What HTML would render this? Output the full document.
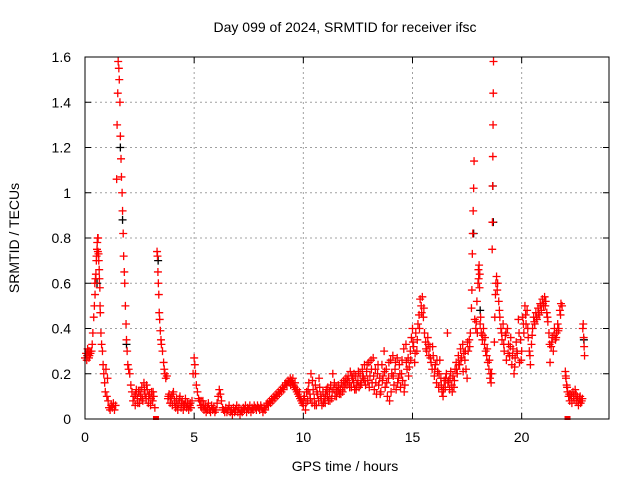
<!DOCTYPE html>
<html><head><meta charset="utf-8"><style>
body{margin:0;background:#fff}
svg{display:block;font-family:"Liberation Sans",sans-serif}
</style></head><body>
<svg id="c" width="640" height="480"></svg>
<script>
const xTicks=[0,5,10,15,20];
const yTicks=[0,0.2,0.4,0.6,0.8,1,1.2,1.4,1.6];
const yTickLabels=["0","0.2","0.4","0.6","0.8","1","1.2","1.4","1.6"];
const redTimes=[0,.05,.1,.15,.2,.25,.3,.33,.36,.4,.43,.46,.5,.52,.55,.58,.6,.62,.65,.68,.7,.73,.76,.8,.83,.86,.9,.93,.96,1,1.03,1.06,1.1,1.15,1.2,1.25,1.3,1.35,1.4,
1.45,1.47,1.5,1.52,1.55,1.57,1.6,1.62,1.65,1.67,1.7,1.72,1.75,1.77,1.8,1.82,1.85,1.88,1.9,1.93,1.96,2,2.05,2.1,2.15,2.2,2.25,2.3,2.35,2.4,2.45,2.5,2.55,2.6,2.65,2.7,2.75,2.8,2.85,2.9,2.95,3,3.05,3.1,3.15,3.2,
3.3,3.32,3.34,3.36,3.38,3.4,3.42,3.45,3.48,3.5,3.55,3.6,3.63,3.66,3.7,3.75,3.8,3.85,3.9,3.95,4,4.05,4.1,4.15,4.2,4.25,4.3,4.35,4.4,4.45,4.5,4.55,4.6,4.65,4.7,4.75,4.8,4.85,4.9,4.95,5,5.03,5.06,5.1,5.15,5.2,5.25,5.3,5.35,5.4,5.45,5.5,5.55,5.6,5.65,5.7,5.75,5.8,5.85,5.9,5.95,6,6.05,6.1,6.15,6.2,6.25,6.3,6.35,6.4,6.45,6.5,6.55,6.6,6.65,6.7,6.75,6.8,6.85,6.9,6.95,7,7.05,7.1,7.15,7.2,7.25,7.3,7.35,7.4,7.45,7.5,7.55,7.6,7.65,7.7,7.75,7.8,7.85,7.9,7.95,8,8.05,8.1,8.15,8.2,8.25,8.3,8.35,8.4,8.45,8.5,8.55,8.6,8.65,8.7,8.75,8.8,8.85,8.9,8.95,9,9.05,9.1,9.15,9.2,9.25,9.3,9.35,9.4,9.45,9.5,9.55,9.6,9.65,9.7,9.75,9.8,9.85,9.9,9.95,
10,10.05,10.1,10.15,10.2,10.25,10.3,10.35,10.4,10.45,10.5,10.55,10.6,10.65,10.7,10.75,10.8,10.85,10.9,10.95,11,11.05,11.1,11.15,11.2,11.25,11.3,11.35,11.4,11.45,11.5,11.55,11.6,11.65,11.7,11.75,11.8,11.85,11.9,11.95,12,12.05,12.1,12.15,12.2,12.25,12.3,12.35,12.4,12.45,12.5,12.55,12.6,12.65,12.7,12.75,12.8,12.85,12.9,12.95,13,13.05,13.1,13.15,13.2,13.25,13.3,13.35,13.4,13.45,13.5,13.55,13.6,13.65,13.7,13.75,13.8,13.85,13.9,13.95,14,14.05,14.1,14.15,14.2,14.25,14.3,14.35,14.4,14.45,14.5,14.55,14.6,14.65,14.7,14.75,14.8,14.85,14.9,14.95,
15,15.05,15.1,15.15,15.2,15.25,15.3,15.35,15.4,15.45,15.5,15.55,15.6,15.65,15.7,15.75,15.8,15.85,15.9,15.95,16,16.05,16.1,16.15,16.2,16.25,16.3,16.35,16.4,16.45,16.5,16.55,16.6,16.65,16.7,16.75,16.8,16.85,16.9,16.95,17,17.05,17.1,17.15,17.2,17.25,17.3,17.35,17.4,17.45,17.5,17.55,17.6,17.65,17.7,17.72,17.74,17.76,17.78,17.8,17.82,17.85,17.9,17.95,18,18.02,18.05,18.08,18.1,18.15,18.2,18.25,18.3,18.35,18.4,18.45,18.5,18.55,18.6,18.62,18.65,18.66,18.67,18.68,18.69,18.7,18.71,18.75,18.8,18.85,18.9,18.95,
19,19.05,19.1,19.15,19.2,19.25,19.3,19.35,19.4,19.45,19.5,19.55,19.6,19.65,19.7,19.75,19.8,19.85,19.9,19.95,20,20.05,20.1,20.15,20.2,20.25,20.3,20.35,20.4,20.45,20.5,20.55,20.6,20.65,20.7,20.75,20.8,20.85,20.9,20.95,21,21.05,21.1,21.15,21.2,21.25,21.3,21.35,21.4,21.45,21.5,21.55,21.6,21.65,21.7,21.75,21.8,21.85,22,22.03,22.06,22.1,22.15,22.2,22.25,22.3,22.35,22.4,22.45,22.5,22.55,22.6,22.65,22.7,22.75,22.8,22.82,22.84,22.86,22.88];
const redValues=[.27,.29,.28,.30,.28,.29,.30,.33,.38,.45,.50,.55,.64,.70,.75,.80,.80,.73,.66,.58,.47,.38,.33,.30,.24,.20,.16,.12,.22,.10,.18,.08,.05,.04,.06,.05,.07,.04,.06,
1.06,1.30,1.44,1.58,1.55,1.50,1.40,1.25,1.15,1.07,1.0,.92,.82,.72,.65,.60,.50,.42,.35,.30,.24,.22,.20,.15,.12,.08,.10,.06,.13,.09,.12,.07,.10,.14,.08,.16,.11,.09,.13,.07,.11,.06,.12,.08,.10,.05,
.74,.72,.65,.60,.55,.47,.44,.39,.35,.33,.30,.25,.22,.20,.18,.19,.09,.11,.07,.10,.06,.12,.08,.05,.09,.04,.07,.10,.05,.08,.04,.06,.09,.05,.07,.04,.06,.05,.08,.20,.27,.24,.20,.15,.12,.09,.08,.06,.05,.08,.04,.06,.03,.05,.07,.04,.03,.06,.04,.05,.03,.04,.07,.10,.13,.11,.08,.05,.04,.03,.05,.03,.04,.06,.03,.04,.02,.05,.03,.04,.06,.03,.05,.02,.04,.03,.05,.04,.06,.03,.05,.04,.06,.03,.05,.04,.06,.05,.04,.06,.05,.04,.06,.05,.03,.05,.04,.06,.07,.06,.08,.07,.09,.08,.10,.09,.11,.10,.12,.11,.13,.12,.14,.13,.15,.16,.15,.17,.16,.18,.17,.16,.15,.14,.13,.12,.11,.10,.09,.08,.07,
.06,.10,.04,.12,.08,.16,.11,.20,.07,.13,.09,.15,.06,.11,.08,.14,.10,.06,.12,.09,.07,.13,.10,.08,.12,.15,.09,.20,.13,.10,.14,.12,.15,.11,.13,.16,.12,.17,.14,.18,.15,.19,.16,.21,.14,.18,.16,.13,.19,.15,.17,.14,.20,.16,.22,.18,.24,.15,.21,.17,.25,.19,.26,.16,.27,.13,.22,.11,.20,.15,.18,.12,.24,.19,.30,.14,.22,.10,.18,.08,.26,.20,.28,.15,.22,.13,.27,.18,.24,.14,.20,.17,.31,.15,.33,.22,.27,.23,.30,.36,
.40,.32,.25,.38,.30,.42,.46,.53,.50,.54,.45,.38,.34,.30,.36,.28,.32,.25,.22,.28,.19,.24,.16,.21,.14,.26,.18,.12,.10,.17,.14,.20,.38,.17,.13,.21,.15,.19,.14,.22,.25,.20,.28,.24,.31,.27,.33,.29,.26,.22,.18,.30,.35,.38,.49,.57,.73,.82,.92,1.02,1.14,.44,.40,.52,.60,.66,.68,.64,.42,.38,.35,.40,.33,.30,.28,.25,.22,.18,.16,.20,.75,.87,1.03,1.16,1.30,1.44,1.58,.34,.55,.63,.60,.52,
.45,.40,.35,.42,.30,.37,.26,.40,.33,.28,.36,.24,.31,.20,.27,.34,.29,.44,.25,.35,.30,.45,.38,.50,.42,.48,.36,.30,.24,.33,.40,.45,.42,.47,.44,.49,.46,.51,.48,.53,.50,.54,.52,.47,.43,.38,.25,.32,.36,.30,.40,.35,.38,.42,.40,.48,.51,.50,.21,.18,.15,.12,.10,.08,.11,.07,.12,.09,.13,.08,.10,.06,.09,.07,.08,.40,.42,.36,.32,.28];
const extraTimes=[.08,.12,.18,.22,.45,.48,.53,.56,.59,.63,.66,.69,2.32,2.42,2.52,2.62,2.72,2.82,2.92,3.02,3.12,3.82,3.92,4.02,4.12,4.22,4.32,4.42,4.52,4.62,4.72,4.82,5.32,5.42,5.52,5.62,9.42,9.52,9.62,9.72,9.82,
10.02,10.12,10.22,10.32,10.42,10.52,10.62,10.72,10.82,10.92,11.02,11.12,11.22,11.32,11.42,11.52,11.62,11.72,11.82,11.92,12.02,12.12,12.22,12.32,12.42,12.52,12.62,12.72,12.82,12.92,13.02,13.12,13.22,13.32,13.42,13.52,13.62,13.72,13.82,13.92,14.02,14.12,14.22,14.32,14.42,14.52,14.62,14.72,14.82,14.92,
15.02,15.12,15.22,15.32,15.42,15.52,15.62,15.72,15.82,15.92,16.02,16.12,16.22,16.32,16.42,16.52,16.62,16.72,16.82,16.92,17.02,17.12,17.22,17.32,17.42,17.52,17.62,17.92,17.97,18.03,18.07,18.12,18.22,18.32,18.42,18.52,18.58,18.77,18.82,18.88,18.98,
19.08,19.18,19.28,19.38,19.48,19.58,19.68,19.78,19.88,19.98,20.08,20.18,20.28,20.38,20.48,20.58,20.68,20.78,20.88,20.98,21.08,21.18,21.28,21.38,21.48,21.58,21.68,21.78,22.02,22.08,22.18,22.28,22.38,22.48,22.58,22.68,22.78];
const extraValues=[.26,.31,.27,.30,.60,.62,.72,.78,.74,.70,.62,.50,.11,.07,.12,.09,.13,.15,.10,.09,.12,.10,.09,.11,.07,.06,.09,.07,.06,.07,.06,.07,.08,.06,.05,.04,.15,.18,.16,.13,.12,
.09,.07,.13,.09,.17,.06,.12,.18,.09,.07,.11,.14,.08,.12,.16,.10,.13,.11,.14,.16,.17,.14,.19,.20,.13,.21,.15,.19,.17,.24,.14,.22,.19,.16,.24,.11,.17,.21,.16,.25,.12,.19,.25,.16,.20,.26,.12,.25,.19,.26,
.34,.29,.35,.40,.47,.49,.31,.33,.27,.32,.22,.26,.20,.15,.13,.18,.16,.18,.12,.17,.22,.24,.26,.21,.30,.34,.32,.43,.38,.62,.58,.45,.37,.36,.31,.26,.20,.45,.60,.57,.48,
.38,.33,.38,.29,.32,.28,.23,.30,.38,.26,.42,.46,.40,.28,.37,.43,.45,.47,.50,.51,.50,.45,.33,.34,.37,.36,.39,.46,.19,.14,.11,.10,.10,.11,.08,.10,.09];
const blackTimes=[0.55,1.62,1.72,1.9,3.35,17.8,18.1,18.68,18.7,22.85];
const blackValues=[0.6,1.2,0.88,0.33,0.7,0.82,0.48,1.03,0.87,0.35];
const zeroTimes=[3.25,22.1];

const NS="http://www.w3.org/2000/svg";
const svg=document.getElementById('c');
const L=85,R=609,T=57,B=419,XMAX=24,YMAX=1.6;
const xs=t=>L+(t/XMAX)*(R-L);
const ys=v=>B-(v/YMAX)*(B-T);
function mk(tag,attrs,parent){const e=document.createElementNS(NS,tag);for(const k in attrs)e.setAttribute(k,attrs[k]);(parent||svg).appendChild(e);return e;}

const grid=mk('g',{stroke:'#a0a0a0','stroke-width':1,'stroke-dasharray':'2,3'});


xTicks.forEach(t=>{if(t>0)mk('line',{x1:xs(t),x2:xs(t),y1:T,y2:B},grid);});
yTicks.forEach(v=>{if(v>0&&v<YMAX)mk('line',{x1:L,x2:R,y1:ys(v),y2:ys(v)},grid);});

const ticks=mk('g',{stroke:'#000','stroke-width':1});


xTicks.forEach(t=>{mk('line',{x1:xs(t),x2:xs(t),y1:B,y2:B-6},ticks);mk('line',{x1:xs(t),x2:xs(t),y1:T,y2:T+6},ticks);});
yTicks.forEach(v=>{mk('line',{x1:L,x2:L+6,y1:ys(v),y2:ys(v)},ticks);mk('line',{x1:R,x2:R-6,y1:ys(v),y2:ys(v)},ticks);});

const xl=mk('g',{'font-size':14,fill:'#000','text-anchor':'middle'});


xTicks.forEach(t=>{const e=mk('text',{x:xs(t),y:442},xl);e.textContent=String(t);});
const yl=mk('g',{'font-size':14,fill:'#000','text-anchor':'end'});


yTicks.forEach((v,i)=>{const e=mk('text',{x:71,y:ys(v)+5},yl);e.textContent=yTickLabels[i];});

function plus(g,t,v,col){const x=xs(t),y=ys(v);mk('path',{d:`M${x-4},${y}H${x+4}M${x},${y-4}V${y+4}`,stroke:col,'stroke-width':1.3},g);}
const blk=mk('g',{});


blackTimes.forEach((t,i)=>plus(blk,t,blackValues[i],'#000'));
const red=mk('g',{});


redTimes.forEach((t,i)=>plus(red,t,redValues[i],'#ff0000'));
extraTimes.forEach((t,i)=>plus(red,t,extraValues[i],'#ff0000'));
zeroTimes.forEach(t=>{mk('rect',{x:xs(t)-3,y:B-3,width:6,height:4,fill:'#ff0000'},red);});

const frame=mk('rect',{x:L,y:T,width:R-L,height:B-T,fill:'none',stroke:'#000','stroke-width':1});



const title=mk('text',{x:345,y:32,'font-size':14,'text-anchor':'middle'});
title.textContent='Day 099 of 2024, SRMTID for receiver ifsc';


const xt=mk('text',{x:345,y:471,'font-size':14,'text-anchor':'middle'});
xt.textContent='GPS time / hours';


const yt=mk('text',{x:0,y:0,'font-size':14,'text-anchor':'middle',transform:'translate(19,238) rotate(-90)'});
yt.textContent='SRMTID / TECUs';


</script>
</body></html>
